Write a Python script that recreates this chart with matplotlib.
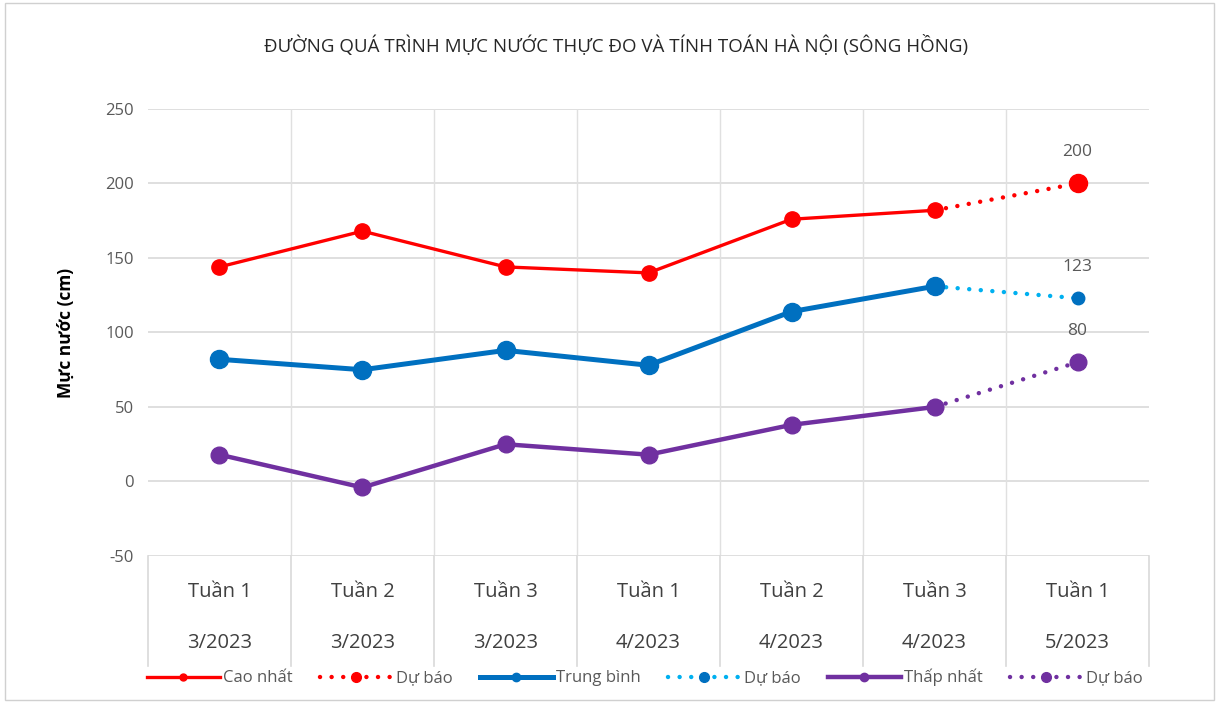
import numpy as np
import matplotlib.pyplot as plt
from matplotlib.lines import Line2D

plt.rcParams["font.family"] = ["Open Sans", "DejaVu Sans"]
plt.rcParams["axes.unicode_minus"] = False

# data
weeks = ["Tuần 1", "Tuần 2", "Tuần 3", "Tuần 1", "Tuần 2", "Tuần 3", "Tuần 1"]
months = ["3/2023", "3/2023", "3/2023", "4/2023", "4/2023", "4/2023", "5/2023"]
cao_nhat = [144, 168, 144, 140, 176, 182]
trung_binh = [82, 75, 88, 78, 114, 131]
thap_nhat = [18, -4, 25, 18, 38, 50]
du_bao_cao = 200
du_bao_tb = 123
du_bao_thap = 80

red = "#FF0000"
blue = "#0070C0"
lblue = "#00B0F0"
purple = "#7030A0"
grid_c = "#E0E0E0"
txt_c = "#595959"

fig = plt.figure(figsize=(12.19, 7.03), dpi=100)
ax = fig.add_axes([0.1214, 0.2091, 0.8212, 0.6359])

x = np.arange(len(weeks))
xo = x[:len(cao_nhat)]
last = len(cao_nhat) - 1
nxt = len(weeks) - 1

dot = (0, (0.01, 2.6))

# observed series
ax.plot(xo, cao_nhat, color=red, lw=2.4, marker="o", ms=11, zorder=4)
ax.plot(xo, trung_binh, color=blue, lw=3.6, marker="o", ms=13, zorder=4)
ax.plot(xo, thap_nhat, color=purple, lw=3.2, marker="o", ms=12, zorder=4)

# forecast segments
ax.plot([xo[last], x[nxt]], [cao_nhat[last], du_bao_cao], color=red, lw=3.2,
        ls=dot, dash_capstyle="round", zorder=3)
ax.plot([x[nxt]], [du_bao_cao], color=red, marker="o", ms=13, ls="none", zorder=4)
ax.plot([xo[last], x[nxt]], [trung_binh[last], du_bao_tb], color=lblue, lw=3.2,
        ls=dot, dash_capstyle="round", zorder=3)
ax.plot([x[nxt]], [du_bao_tb], color=blue, marker="o", ms=9, ls="none", zorder=4)
ax.plot([xo[last], x[nxt]], [thap_nhat[last], du_bao_thap], color=purple, lw=3.2,
        ls=dot, dash_capstyle="round", zorder=3)
ax.plot([x[nxt]], [du_bao_thap], color=purple, marker="o", ms=12, ls="none", zorder=4)

for v in [du_bao_cao, du_bao_tb, du_bao_thap]:
    ax.annotate(str(v), (x[nxt], v), xytext=(0, 17), textcoords="offset points",
                ha="center", va="bottom", fontsize=12.5, color=txt_c)

ax.set_xlim(-0.5, len(weeks) - 0.5)
ax.set_ylim(-50, 250)
ax.set_yticks(np.arange(-50, 251, 50))
ax.tick_params(axis="y", length=0, labelsize=12, labelcolor=txt_c, pad=10)
ax.set_xticks([])

# gridlines
for yv in np.arange(-50, 251, 50):
    ax.axhline(yv, color="#D9D9D9", lw=1.2, zorder=0)
for xv in np.arange(0.5, len(weeks) - 0.5, 1):
    ax.plot([xv, xv], [0, 1], transform=ax.get_xaxis_transform(), color=grid_c,
            lw=1.0, zorder=0)
# category table below axis
for xv in np.arange(-0.5, len(weeks), 1):
    ax.plot([xv, xv], [0, -0.245], transform=ax.get_xaxis_transform(), color="#D9D9D9",
            lw=1.2, clip_on=False)
for i in range(len(weeks)):
    ax.text(x[i], -0.08, weeks[i], transform=ax.get_xaxis_transform(), ha="center",
            va="center", fontsize=14.5, color="#404040")
    ax.text(x[i], -0.195, months[i], transform=ax.get_xaxis_transform(), ha="center",
            va="center", fontsize=14.5, color="#404040")

for s in ax.spines.values():
    s.set_visible(False)

ax.set_ylabel("Mực nước (cm)", fontsize=12.5, color="black", fontweight="bold",
              labelpad=22)
fig.text(0.505, 0.935, "ĐƯỜNG QUÁ TRÌNH MỰC NƯỚC THỰC ĐO VÀ TÍNH TOÁN HÀ NỘI (SÔNG HỒNG)",
         ha="center", va="center", fontsize=13.5, color="#262626")

handles = [
    Line2D([], [], color=red, lw=2.4, marker="o", ms=5),
    Line2D([], [], color=red, lw=3.2, ls=dot, dash_capstyle="round", marker="o", ms=7),
    Line2D([], [], color=blue, lw=3.6, marker="o", ms=6),
    Line2D([], [], color=lblue, lw=3.2, ls=dot, dash_capstyle="round", marker="o", ms=7,
           mfc=blue, mec=blue),
    Line2D([], [], color=purple, lw=3.2, marker="o", ms=6),
    Line2D([], [], color=purple, lw=3.2, ls=dot, dash_capstyle="round", marker="o", ms=7),
]
labels = ["Cao nhất", "Dự báo", "Trung bình", "Dự báo", "Thấp nhất", "Dự báo"]
fig.legend(handles, labels, loc="center", bbox_to_anchor=(0.529, 0.036), ncol=6,
           frameon=False, fontsize=12, handlelength=4.4, handletextpad=0.2,
           columnspacing=1.6, labelcolor=txt_c)

fig.add_artist(plt.Rectangle((0.004, 0.004), 0.992, 0.992, transform=fig.transFigure,
                             fill=False, edgecolor="#D0D0D0", lw=1))

fig.savefig("out.png", dpi=100)
